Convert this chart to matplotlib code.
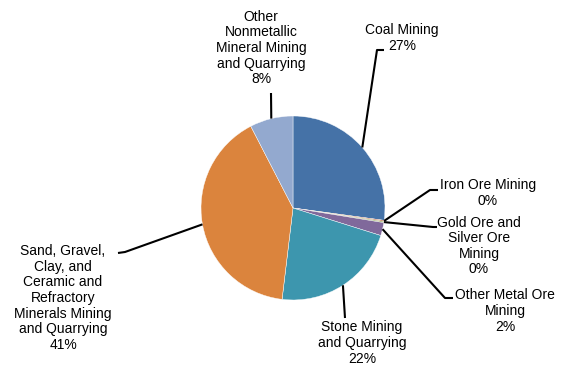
import numpy as np
import matplotlib
matplotlib.use("Agg")
import matplotlib.pyplot as plt

# mining sectors, clockwise from 12 o'clock
labels = [
    "Coal Mining",
    "Iron Ore Mining",
    "Gold Ore and\nSilver Ore\nMining",
    "Other Metal Ore\nMining",
    "Stone Mining\nand Quarrying",
    "Sand, Gravel,\nClay, and\nCeramic and\nRefractory\nMinerals Mining\nand Quarrying",
    "Other\nNonmetallic\nMineral Mining\nand Quarrying",
]
shares = [27.2, 0.2, 0.2, 2.3, 22.1, 40.6, 7.6]
colors = ["#4572A7", "#C0603A", "#89A54E", "#80699B", "#3D96AE", "#DB843D", "#93A9CF"]

W, H = 565, 366
plt.rcParams["font.family"] = ["Liberation Sans", "DejaVu Sans"]

fig = plt.figure(figsize=(W / 100, H / 100), dpi=100)
ax = fig.add_axes([0, 0, 1, 1])

def py(y):
    # pixel row -> data y
    return H - y

cx, cy, r = 293, py(208), 92
wedges, _ = ax.pie(shares, colors=colors, startangle=90, counterclock=False,
                   center=(cx, cy), radius=r, frame=True,
                   wedgeprops=dict(edgecolor="white", linewidth=0.3))
ax.set_xlim(0, W)
ax.set_ylim(0, H)
ax.set_aspect("equal")
ax.axis("off")

# label layout: text centre, leader bend point, leader end point (pixels)
text_pos = [(402, 38), (488, 193), (479, 246), (505, 311), (362, 343), (63, 298), (261, 48)]
bends = [(377, 50), (430, 190), (433, 227), (445, 298), (345, 318), (125, 252), (271, 93)]
ends = [(384, 50), (438, 190), (437, 227), (453, 298), (345, 318), (118, 253), (271, 93)]

total = sum(shares)
for w, lab, val, tp, b, e in zip(wedges, labels, shares, text_pos, bends, ends):
    ang = np.deg2rad((w.theta1 + w.theta2) / 2)
    sx, sy = cx + r * np.cos(ang), cy + r * np.sin(ang)
    ax.plot([sx, b[0], e[0]], [sy, py(b[1]), py(e[1])], color="black", lw=1.5,
            solid_capstyle="butt", zorder=3)
    pct = round(val / total * 100)
    ax.text(tp[0], py(tp[1]), f"{lab}\n{pct}%", ha="center", va="center",
            fontsize=10, linespacing=1.15, color="#000000")

fig.savefig("out.png", dpi=100)
